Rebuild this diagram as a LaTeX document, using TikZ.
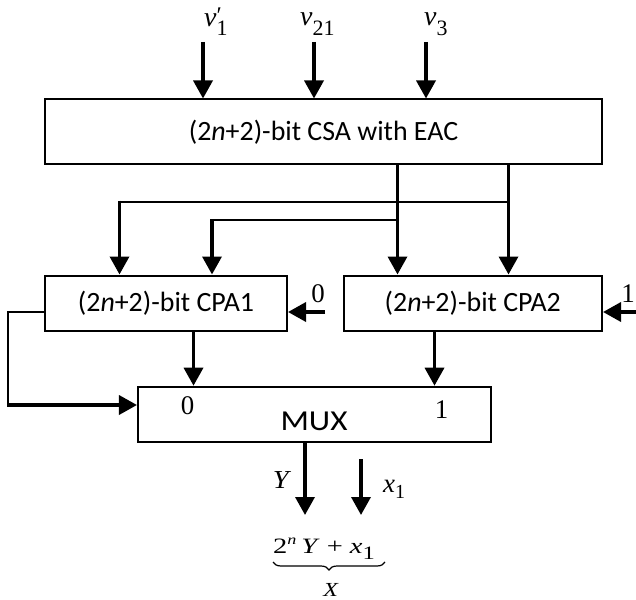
\documentclass[tikz,border=0pt]{standalone}
\usepackage{graphicx}
\usepackage{fontspec}
\setmainfont{Carlito}
\newfontfamily\tms{Liberation Serif}
\usetikzlibrary{arrows.meta,decorations.pathreplacing}
\newcommand\hsc[2][1.3]{\scalebox{#1}[1]{#2}}
\newcommand\sbs[3]{\raisebox{#1}{\fontsize{#2}{#2}\selectfont\upshape #3}}
\tikzset{
  blk/.style={draw, line width=2bp, rectangle, inner sep=0pt, font=\fontsize{28}{32}\selectfont},
  arr/.style={line width=3.5bp, -{Triangle[width=19bp,length=18bp]}},
  thin/.style={line width=2bp},
  lbl/.style={inner sep=0pt, font=\tms\fontsize{27}{30}\selectfont},
}
\begin{document}
\begin{tikzpicture}[x=1bp,y=-1bp]
\useasboundingbox (0,0) rectangle (636,600);
% boxes
\node[blk, minimum width=557bp, minimum height=64.5bp] (csa) at (323.5,131.75) {(2\textit{n}+2)-bit CSA with EAC};
\node[blk, minimum width=242bp, minimum height=55.5bp] (cpa1) at (166,303.25) {(2\textit{n}+2)-bit CPA1};
\node[blk, minimum width=258.5bp, minimum height=55.5bp] (cpa2) at (472.75,303.25) {(2\textit{n}+2)-bit CPA2};
\node[blk, minimum width=352.7bp, minimum height=55bp] (mux) at (314.35,414.2) {};
\node[inner sep=0pt, font=\fontsize{29}{33}\selectfont] (muxt) at (314,421) {\hsc[1.15]{MUX}};
\node[lbl] (m0) at (187.5,406) {0};
\node[lbl] (m1) at (441.5,410) {1};
% inputs
\coordinate (i1) at (203,42);
\coordinate (i2) at (314,42);
\coordinate (i3) at (426,42);
\node[lbl, font=\tms\fontsize{28}{30}\selectfont, anchor=base west] (l1) at (204,27) {\textit{v}\rlap{\sbs{3bp}{24}{′}}\sbs{-9bp}{22}{1}};
\node[lbl, font=\tms\fontsize{28}{30}\selectfont, anchor=base west] (l2) at (300,26) {\textit{v}\sbs{-10bp}{22}{21}};
\node[lbl, font=\tms\fontsize{28}{30}\selectfont, anchor=base west] (l3) at (424,26) {\textit{v}\sbs{-10bp}{22}{3}};
\draw[arr] (i1) -- (i1 |- csa.north);
\draw[arr] (i2) -- (i2 |- csa.north);
\draw[arr] (i3) -- (i3 |- csa.north);
% CSA outputs
\coordinate (o1) at (397.5,164);
\coordinate (o2) at (508.5,164);
\draw[arr] (o1) -- (o1 |- cpa2.north);
\draw[arr] (o2) -- (o2 |- cpa2.north);
\coordinate (b1) at (508.5,201.5);
\coordinate (c1) at (119.5,201.5);
\coordinate (b2) at (397.5,220);
\coordinate (c2) at (212,220);
\draw[thin] (b1) -- (c1);
\draw[thin] (b2) -- (c2);
\draw[arr] ([yshift=1bp]c1) -- (c1 |- cpa1.north);
\draw[arr] ([yshift=1bp]c2) -- (c2 |- cpa1.north);
% carry inputs
\coordinate (z0) at (325,312);
\coordinate (z1) at (636,312);
\node[lbl] (t0) at (318,294) {0};
\node[lbl] (t1) at (628,294) {1};
\draw[arr] (z0) -- (z0 -| cpa1.east);
\draw[arr] (z1) -- (z1 -| cpa2.east);
% CPA1 feedback to MUX
\coordinate (f0) at (45,312);
\coordinate (f1) at (8,312);
\coordinate (f2) at (8,405);
\draw[thin] (f0) -- (f1) -- ([yshift=-1bp]f2);
\draw[arr] ([xshift=-1bp]f2) -- (f2 -| mux.west);
% CPA outputs to MUX
\coordinate (p1) at (193.5,331);
\coordinate (p2) at (434.5,331);
\draw[arr] (p1) -- (p1 |- mux.north);
\draw[arr] (p2) -- (p2 |- mux.north);
% outputs
\coordinate (y0) at (305,441.7);
\coordinate (y1) at (305,515);
\coordinate (x0) at (361,459);
\coordinate (x1) at (361,515);
\draw[arr] (y0) -- (y1);
\draw[arr] (x0) -- (x1);
\node[lbl, font=\tms\fontsize{26}{29}\selectfont, anchor=base] (ly) at (282,488) {\hsc[1.1]{\textit{Y}}};
\node[lbl, font=\tms\fontsize{27}{30}\selectfont, anchor=base west] (lx) at (383,492) {\textit{x}\sbs{-6bp}{20}{1}};
\node[lbl, font=\tms\fontsize{22}{25}\selectfont, anchor=base west] (expr) at (273,553)
  {\hsc[1.3]{2\sbs{9bp}{14}{\itshape n}\,\textit{Y} + \textit{x}\sbs{-6bp}{19}{1}}};
\coordinate (br) at (385,562);
\coordinate (bl) at (273,562);
\draw[line width=1.2bp, decorate, decoration={brace, amplitude=8bp}] (br) -- (bl);
\node[lbl, font=\tms\fontsize{20}{23}\selectfont, anchor=base] (bx) at (331,596) {\hsc[1.2]{\textit{X}}};
\end{tikzpicture}
\end{document}
